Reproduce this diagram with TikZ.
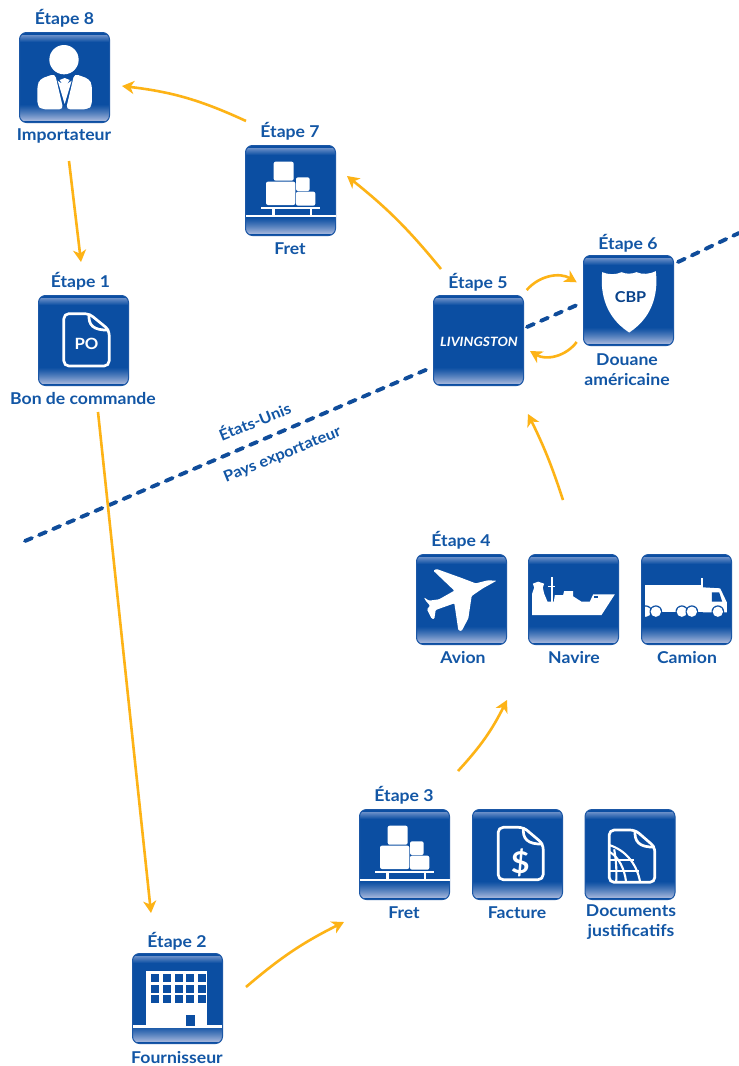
\documentclass[tikz,border=0pt]{standalone}
\usepackage{fontspec}
\setmainfont{Lato}[FakeStretch=1.08]
\usetikzlibrary{arrows.meta}
\definecolor{iconblue}{HTML}{0B4EA2}
\definecolor{rimblue}{HTML}{1B57A6}
\definecolor{lightband}{HTML}{9FB2D9}
\definecolor{topband}{HTML}{6A8FC8}
\definecolor{textblue}{HTML}{1256A5}
\definecolor{linkorange}{HTML}{FDB316}
\definecolor{borderblue}{HTML}{0F4C9A}
\tikzset{
  iconbox/.style={rectangle,rounded corners=7pt,minimum size=90pt,inner sep=0pt,outer sep=0pt,
    draw=rimblue,line width=1pt,fill=iconblue,
    path picture={
      \foreach \k in {0,...,15}{
        \pgfmathsetmacro\pct{100*(1-\k/16)^1.2}
        \fill[sharp corners,lightband!\pct!iconblue]
          ([yshift=\k pt+1.6pt]path picture bounding box.south west) rectangle ([yshift=\k pt+2.7pt]path picture bounding box.south east);
      }
      \foreach \k in {0,...,6}{
        \pgfmathsetmacro\pct{100*(1-\k/7)}
        \fill[sharp corners,topband!\pct!iconblue]
          ([yshift=-\k pt-2pt]path picture bounding box.north west) rectangle ([yshift=-\k pt-3.1pt]path picture bounding box.north east);
      }
    }},
  steplabel/.style={font=\bfseries\fontsize{16.3}{16}\selectfont,text=textblue,inner sep=0pt,align=center},
  caption/.style={font=\bfseries\fontsize{16.3}{20.5}\selectfont,text=textblue,inner sep=0pt,align=center},
  slanted/.style={font=\bfseries\fontsize{15.3}{16}\selectfont,text=textblue,inner sep=0pt,rotate=22},
  link/.style={draw=linkorange,line width=2.6pt,-{Stealth[length=12pt,width=13pt,inset=3.5pt]}},
  border/.style={draw=borderblue,line width=3.9pt,line cap=round,dash pattern=on 7.5pt off 7.8pt},
  outline/.style={draw=white,line width=2.7pt,line join=round,fill=none},
  gridline/.style={draw=white,line width=2.1pt,fill=none},
}
\newcommand{\zoomscope}[3]{\begin{scope}[shift={(#1.center)},x=0.3333pt,y=-0.3333pt,shift={(-#2,-#3)}]}
\newcommand{\cargo}[1]{%
  \zoomscope{#1}{870.5}{571.5}
    \fill[white,rounded corners=2pt] (820,485) rectangle (880,542);
    \fill[white,rounded corners=2pt] (797,545) rectangle (885,615);
    \fill[white,rounded corners=2pt] (887,532) rectangle (928,573);
    \fill[white,rounded corners=2pt] (887,575) rectangle (945,617);
    \fill[white] (782,620) rectangle (958,628);
    \fill[white] (816,626) rectangle (824,646);
    \fill[white] (928,626) rectangle (936,646);
    \fill[white] (736,645) rectangle (1006,652);
  \end{scope}}
\begin{document}
\begin{tikzpicture}[x=1pt,y=-1pt]
\useasboundingbox (0,0) rectangle (739,1066);
\fill[white] (0,0) rectangle (739,1066);

\coordinate (bA) at (25,541);
\coordinate (bD) at (739,233);
\node[iconbox] (i1) at (83.5,340.5) {};
\node[iconbox] (i2) at (177.5,998.5) {};
\node[iconbox] (i3a) at (404.5,854.5) {};
\node[iconbox] (i3b) at (517.5,854.5) {};
\node[iconbox] (i3c) at (630,854.5) {};
\node[iconbox] (i4a) at (461.5,599.5) {};
\node[iconbox] (i4b) at (573.5,599.5) {};
\node[iconbox] (i4c) at (686.5,599.5) {};
\node[iconbox] (i5) at (478.5,340.5) {};
\node[iconbox] (i6) at (628.5,300.5) {};
\node[iconbox] (i7) at (290.5,190.5) {};
\node[iconbox] (i8) at (64.5,77.5) {};

\draw[border] (bA) -- ([shift={(-50.5,28.5)}]i5.center);
\draw[border] ([shift={(48.5,-13.5)}]i5.center) -- ([shift={(-51.5,4.5)}]i6.center);
\draw[border] ([shift={(49.5,-38.5)}]i6.center) -- (bD);

% labels
\node[steplabel] (s8) at (64.5,18) {Étape 8};
\node[caption] (c8) at (64,135.5) {Importateur};
\node[steplabel] (s7) at (290,131) {Étape 7};
\node[caption] (c7) at (290,248.5) {Fret};
\node[steplabel] (s1) at (80.5,281) {Étape 1};
\node[caption] (c1) at (83,398.5) {Bon de commande};
\node[steplabel] (s5) at (478,282) {Étape 5};
\node[steplabel] (s6) at (628,243) {Étape 6};
\node[caption] (c6) at (627,369.5) {Douane\\américaine};
\node[steplabel] (s4) at (461,540.5) {Étape 4};
\node[caption] (c4a) at (463,657.5) {Avion};
\node[caption] (c4b) at (574,657.5) {Navire};
\node[caption] (c4c) at (687,657.5) {Camion};
\node[steplabel] (s3) at (404,795.5) {Étape 3};
\node[caption] (c3a) at (404,912.5) {Fret};
\node[caption] (c3b) at (517,912.5) {Facture};
\node[caption] (c3c) at (631,922) {Documents\\justificatifs};
\node[steplabel] (s2) at (177,941) {Étape 2};
\node[caption] (c2) at (177,1058) {Fournisseur};
\node[slanted] (us) at (254.5,420.5) {États-Unis};
\node[slanted] (ex) at (282.5,455) {Pays exportateur};

% connectors
\draw[link] ([shift={(-44.5,-69.5)}]i7.center) to[bend right=9] ([shift={(57.5,8.5)}]i8.center);
\draw[link] ([shift={(4.5,83.5)}]i8.center) -- ([shift={(-2.5,-78.5)}]i1.center);
\draw[link] ([shift={(14.5,71.5)}]i1.center) -- ([shift={(-26.5,-85.5)}]i2.center);
\draw[link] ([shift={(68.5,-11.5)}]i2.center) to[bend left=7] ([shift={(-60.5,67.5)}]i3a.center);
\draw[link] ([shift={(53.5,-83.5)}]i3a.center) to[bend right=8] ([shift={(45.5,100.5)}]i4a.center);
\draw[link] ([shift={(-10.5,-99.5)}]i4b.center) to[bend right=4] ([shift={(49.5,73.5)}]i5.center);
\draw[link] ([shift={(-37.5,-71.5)}]i5.center) to[bend right=6] ([shift={(56.5,-14.5)}]i7.center);
\draw[link] ([shift={(48.2,-50.5)}]i5.center) to[bend left=40] ([shift={(-51.8,-18.2)}]i6.center);
\draw[link] ([shift={(-51.8,41.5)}]i6.center) to[bend left=42] ([shift={(51.5,10.5)}]i5.center);

% Person
\zoomscope{i8}{149.5}{148.5}
  \fill[white] (148,95) circle[radius=44];
  \fill[white,rounded corners=4pt] (121,137) -- (76,153) -- (68,172) -- (68,232) -- (80,244) -- (146,244) -- cycle;
  \fill[white,rounded corners=4pt] (179,137) -- (224,153) -- (232,172) -- (232,232) -- (220,244) -- (154,244) -- cycle;
  \fill[white] (135,156) -- (150,150) -- (165,156) -- (157,168) -- (171,158) -- (150,228) -- (129,158) -- (143,168) -- cycle;
\end{scope}

% Cargo
\cargo{i7}
\cargo{i3a}

% PO document
\zoomscope{i1}{251}{1021.5}
  \draw[outline,rounded corners=5pt] (268,941) -- (192,941) -- (192,1098) -- (328,1098) -- (328,990) -- cycle;
  \draw[outline] (268,941) .. controls (264,975) and (280,992) .. (328,990);
  \node[font=\bfseries\fontsize{15.5}{15}\selectfont,text=white,inner sep=0pt] (po) at (260,1033) {PO};
\end{scope}

% Invoice document
\zoomscope{i3b}{502}{223.5}
  \draw[outline,rounded corners=5pt] (520,142) -- (444,142) -- (444,299) -- (579,299) -- (579,192) -- cycle;
  \draw[outline] (520,142) .. controls (516,176) and (532,194) .. (579,192);
  \node[font=\bfseries\fontsize{30}{30}\selectfont,text=white,inner sep=0pt] (dollar) at (510,248) {\$};
\end{scope}

% Supporting documents
\zoomscope{i3c}{149.5}{148.5}
  \draw[outline,rounded corners=5pt] (165,75) -- (87,75) -- (87,232) -- (224,232) -- (224,126) -- cycle;
  \draw[outline] (165,75) .. controls (161,109) and (177,128) .. (224,126);
  \draw[gridline] (87,120) .. controls (135,135) and (170,175) .. (180,232);
  \draw[gridline] (87,140) .. controls (115,155) and (133,190) .. (138,232);
  \draw[gridline] (102,133) .. controls (108,165) and (110,200) .. (108,232);
  \draw[gridline] (87,165) -- (160,165);
  \draw[gridline] (87,197) -- (175,197);
\end{scope}

% Building
\zoomscope{i2}{172}{220}
  \fill[white] (77,138) rectangle (262,300);
  \fill[white] (37,298) rectangle (307,307);
  \foreach \cx in {105,140,175,210,245}
    \foreach \cy in {158,190,222}
      \fill[iconblue] (\cx-12,\cy-12) rectangle (\cx+12,\cy+12);
  \fill[iconblue] (198,270) rectangle (223,303);
\end{scope}

% Shield
\zoomscope{i6}{626}{241}
  \fill[white] (547,156) .. controls (565,164) and (590,164) .. (605,156)
    .. controls (618,162) and (636,162) .. (650,156)
    .. controls (668,164) and (690,162) .. (708,153)
    .. controls (714,205) and (708,285) .. (628,337)
    .. controls (548,285) and (542,205) .. (547,156) -- cycle;
  \node[font=\bfseries\fontsize{15}{15}\selectfont,text=iconblue!85!black,inner sep=0pt] (cbp) at (632,232) {CBP};
\end{scope}

% Livingston
\node[font=\bfseries\itshape\fontsize{12.8}{13}\selectfont,text=white,inner sep=0pt] (liv) at ([shift={(0.5,1.5)}]i5.center) {LIVINGSTON};

% Plane
\zoomscope{i4a}{149.5}{148.5}
  \fill[white,rounded corners=1pt] (255,92) -- (228,91) -- (192,100) -- (150,84) -- (75,57) -- (65,62) -- (128,122) -- (82,148) -- (52,152) -- (37,142) -- (42,152) -- (55,167) -- (46,178) -- (60,206) -- (68,207) -- (72,180) -- (128,160) -- (140,241) -- (150,243) -- (170,205) -- (180,138) -- (212,116) -- cycle;
\end{scope}

% Ship
\zoomscope{i4b}{506}{223.5}
  \fill[white] (382,270) -- (590,270) -- (630,208) -- (565,208) -- (555,230) -- (530,230) -- (505,214) -- (505,198) -- (478,198) -- (475,210) -- (450,210) -- (447,230) -- (428,230) -- (418,206) -- (414,188) -- (418,176) -- (400,170) -- (384,176) -- (388,188) -- (382,206) -- cycle;
  \fill[white] (437,157) rectangle (444,232);
  \fill[white] (430,182) rectangle (451,187);
  \fill[iconblue] (566,213) rectangle (579,220);
\end{scope}

% Truck
\zoomscope{i4c}{844}{223.5}
  \fill[white] (720,180) rectangle (888,262);
  \fill[white] (886,160) rectangle (892,262);
  \fill[white] (893,187) -- (945,190) -- (965,232) -- (965,262) -- (893,262) -- cycle;
  \fill[iconblue] (920,202) -- (942,202) -- (951,230) -- (920,230) -- cycle;
  \begin{scope}
    \clip (720,230) rectangle (970,290);
    \foreach \wx in {722,752,830,860,938}{
      \fill[iconblue] (\wx,260) circle[radius=19];
      \fill[white] (\wx,260) circle[radius=15.5];
    }
  \end{scope}
\end{scope}
\end{tikzpicture}
\end{document}
